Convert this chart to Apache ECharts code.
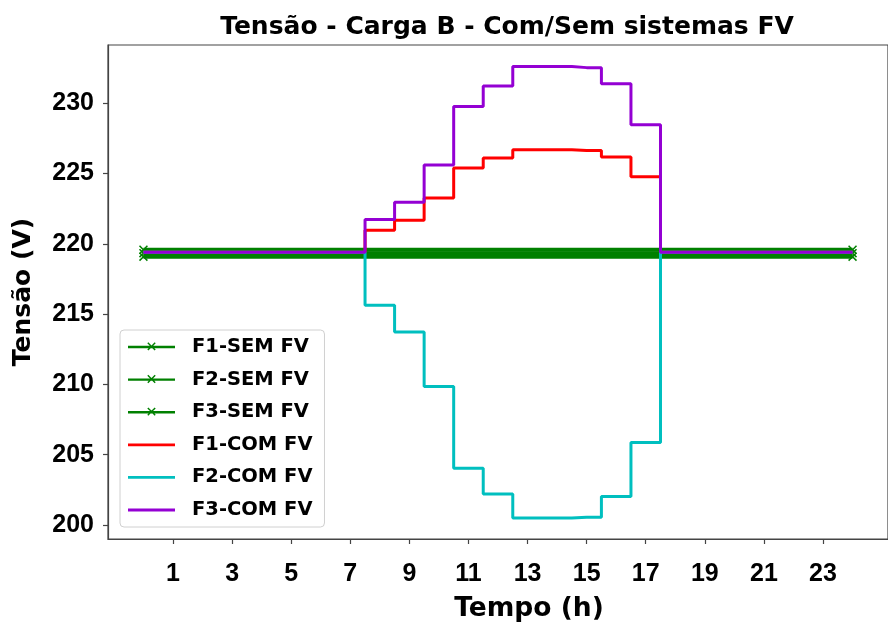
<!DOCTYPE html>
<html>
<head>
<meta charset="utf-8">
<script src="https://cdn.jsdelivr.net/npm/echarts@6/dist/echarts.min.js"></script>
<style>html,body{margin:0;padding:0;background:#fff;}#c{width:888px;height:628px;}</style>
</head>
<body>
<div id="c"></div>
<script>
// ---- data ----
const hours = [0,1,2,3,4,5,6,7,8,9,10,11,12,13,14,15,16,17,18,19,20,21,22,23,24];
const xTicks = [1,3,5,7,9,11,13,15,17,19,21,23];
const yTicks = [200,205,210,215,220,225,230];
const f1Sem = [219.09,219.09,219.09,219.09,219.09,219.09,219.09,219.09,219.09,219.09,219.09,219.09,219.09,219.09,219.09,219.09,219.09,219.09,219.09,219.09,219.09,219.09,219.09,219.09,219.09];
const f2Sem = [219.34,219.34,219.34,219.34,219.34,219.34,219.34,219.34,219.34,219.34,219.34,219.34,219.34,219.34,219.34,219.34,219.34,219.34,219.34,219.34,219.34,219.34,219.34,219.34,219.34];
const f3Sem = [219.58,219.58,219.58,219.58,219.58,219.58,219.58,219.58,219.58,219.58,219.58,219.58,219.58,219.58,219.58,219.58,219.58,219.58,219.58,219.58,219.58,219.58,219.58,219.58,219.58];
const f1Com = [219.4,219.4,219.4,219.4,219.4,219.4,219.4,219.4,220.97,221.68,223.27,225.40,226.11,226.70,226.70,226.65,226.18,224.78,219.4,219.4,219.4,219.4,219.4,219.4,219.4];
const f2Com = [219.4,219.4,219.4,219.4,219.4,219.4,219.4,219.4,215.64,213.72,209.85,204.04,202.20,200.49,200.49,200.54,202.03,205.87,219.4,219.4,219.4,219.4,219.4,219.4,219.4];
const f3Com = [219.4,219.4,219.4,219.4,219.4,219.4,219.4,219.4,221.73,222.96,225.61,229.77,231.24,232.62,232.62,232.54,231.39,228.47,219.4,219.4,219.4,219.4,219.4,219.4,219.4];
const names = ['F1-SEM FV','F2-SEM FV','F3-SEM FV','F1-COM FV','F2-COM FV','F3-COM FV'];
const colors = ['#008000','#008000','#008000','#ff0000','#00bfbf','#9400d3'];

const xSym = 'path://M0,1.2 L1.2,0 L5,3.8 L8.8,0 L10,1.2 L6.2,5 L10,8.8 L8.8,10 L5,6.2 L1.2,10 L0,8.8 L3.8,5 Z';
// legend icons (47x14 box): line only, and line with x marker
const iconLine = 'path://M0,0 L0.01,0 L0.01,14 L0,14 Z M0,5.6 L47,5.6 L47,8.4 L0,8.4 Z';
const iconLineX = 'path://M0,0 L0.01,0 L0.01,14 L0,14 Z M0,5.8 L47,5.8 L47,8.2 L0,8.2 Z M19.3,3.2 L20.3,2.2 L23.5,5.4 L26.7,2.2 L27.7,3.2 L24.5,6.4 L27.7,9.6 L26.7,10.6 L23.5,7.4 L20.3,10.6 L19.3,9.6 L22.5,6.4 Z';
const DJ = 'DejaVu Sans';
const LS = 'Liberation Sans, Arial, sans-serif';

function semSeries(name, arr){
  const last = hours.length - 1;
  const data = hours.map((h,i)=>({value:[h,arr[i]], symbol:(i===0||i===last)?xSym:'none'}));
  return {name, type:'line', data, step:'middle', symbol:xSym, symbolSize:9, showSymbol:true,
    itemStyle:{color:'#008000'}, lineStyle:{color:'#008000', width:4}, z:2, silent:true};
}
function comSeries(name, arr, color, z){
  return {name, type:'line', data:hours.map((h,i)=>[h,arr[i]]), step:'middle', symbol:'none',
    itemStyle:{color}, lineStyle:{color, width:3}, z, silent:true};
}

const chart = echarts.init(document.getElementById('c'), null, {renderer:'canvas'});
chart.setOption({
  animation:false,
  backgroundColor:'#fff',
  title:{text:'Tensão - Carga B - Com/Sem sistemas FV', left:502, top:10, textAlign:'center',
    textStyle:{fontFamily:DJ, fontWeight:'bold', fontSize:25, color:'#000'}},
  grid:{left:108, top:45, width:786, height:495, show:true, borderColor:'#444', borderWidth:1.2, backgroundColor:'transparent'},
  legend:{orient:'vertical', left:120, top:330, itemWidth:47, itemHeight:14, itemGap:12.6,
    padding:[7,12,7,8], borderColor:'#d0d0d0', borderWidth:1, borderRadius:4,
    backgroundColor:'rgba(255,255,255,0.85)',
    textStyle:{fontFamily:DJ, fontWeight:'bold', fontSize:19.5, color:'#000', lineHeight:20, padding:[0,0,0,12]},
    data:names.map((n,i)=>({name:n, icon:(i<3?iconLineX:iconLine), itemStyle:{color:colors[i], borderWidth:0}}))},
  xAxis:{type:'value', min:-1.2, max:25.2,
    name:'Tempo (h)', nameLocation:'middle', nameGap:57,
    nameTextStyle:{fontFamily:DJ, fontWeight:'bold', fontSize:26.5, color:'#000', padding:[0,0,0,62]},
    axisLine:{show:true, onZero:false, lineStyle:{color:'#444', width:1.2}},
    axisTick:{show:true, inside:false, length:5, customValues:xTicks, lineStyle:{color:'#444', width:1.2}},
    axisLabel:{customValues:xTicks, margin:23, fontFamily:LS, fontWeight:'bold', fontSize:25, color:'#000'},
    splitLine:{show:false}},
  yAxis:{type:'value', min:199.0, max:234.15,
    name:'Tensão (V)', nameLocation:'middle', nameGap:72, nameRotate:90,
    nameTextStyle:{fontFamily:DJ, fontWeight:'bold', fontSize:25, color:'#000'},
    axisLine:{show:true, onZero:false, lineStyle:{color:'#444', width:1.2}},
    axisTick:{show:true, inside:false, length:5, customValues:yTicks, lineStyle:{color:'#444', width:1.2}},
    axisLabel:{customValues:yTicks, margin:14, fontFamily:LS, fontWeight:'bold', fontSize:25, color:'#000'},
    splitLine:{show:false}},
  series:[
    semSeries(names[0], f1Sem),
    semSeries(names[1], f2Sem),
    semSeries(names[2], f3Sem),
    comSeries(names[3], f1Com, '#ff0000', 3),
    comSeries(names[4], f2Com, '#00bfbf', 4),
    comSeries(names[5], f3Com, '#9400d3', 5)
  ]
});
</script>
</body>
</html>
